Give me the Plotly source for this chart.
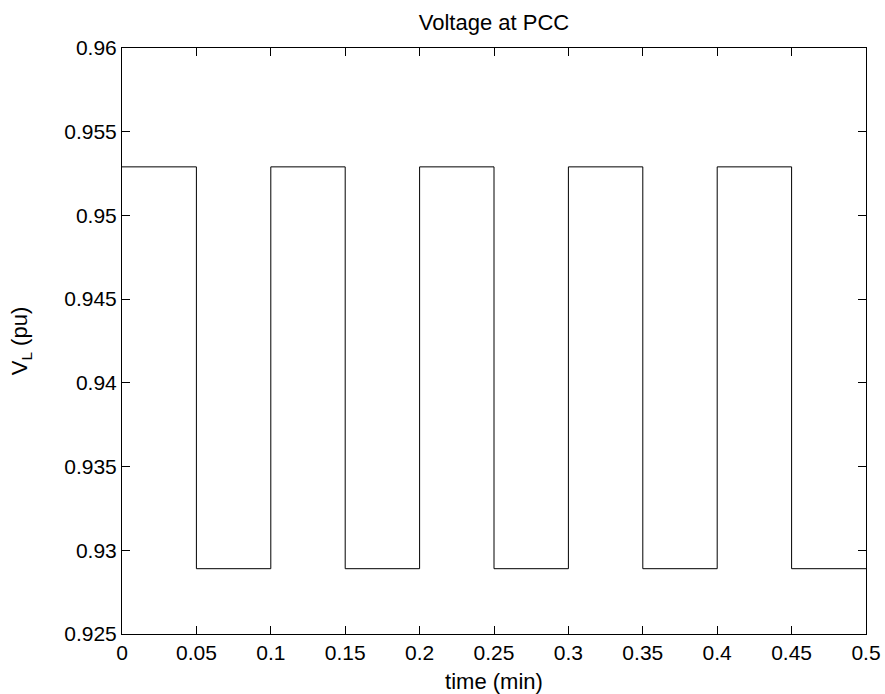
import plotly.graph_objects as go

switch_times = [0, 0.05, 0.1, 0.15, 0.2, 0.25, 0.3, 0.35, 0.4, 0.45, 0.5]
levels = [0.9529, 0.9289, 0.9529, 0.9289, 0.9529, 0.9289, 0.9529, 0.9289, 0.9529, 0.9289, 0.9289]

x_ticks = [0, 0.05, 0.1, 0.15, 0.2, 0.25, 0.3, 0.35, 0.4, 0.45, 0.5]
x_labels = ["0", "0.05", "0.1", "0.15", "0.2", "0.25", "0.3", "0.35", "0.4", "0.45", "0.5"]
y_ticks = [0.925, 0.93, 0.935, 0.94, 0.945, 0.95, 0.955, 0.96]
y_labels = ["0.925", "0.93", "0.935", "0.94", "0.945", "0.95", "0.955", "0.96"]

fig = go.Figure()
fig.add_trace(go.Scatter(x=switch_times, y=levels, mode="lines", line_shape="hv",
                         line=dict(color="black", width=1), showlegend=False))

font = "Liberation Sans, Arial, sans-serif"
axis_common = dict(showgrid=False, zeroline=False, showline=True, linecolor="black", linewidth=1,
                   mirror="ticks", ticks="inside", ticklen=8, tickcolor="black", tickwidth=1,
                   automargin=False,
                   tickfont=dict(family=font, size=21, color="black"))
fig.update_layout(
    width=885, height=694,
    margin=dict(l=122, r=19, t=48, b=60),
    paper_bgcolor="white", plot_bgcolor="white",
    title=dict(text="Voltage at PCC", x=0.5, xanchor="center", xref="paper",
               y=1 - 22 / 694, yanchor="middle", font=dict(family=font, size=22, color="black")),
    xaxis=dict(range=[0, 0.5], tickvals=x_ticks, ticktext=x_labels,
               title=dict(text="time (min)", font=dict(family=font, size=22, color="black"), standoff=11),
               **axis_common),
    yaxis=dict(range=[0.925, 0.96], tickvals=y_ticks, ticktext=y_labels,
               title=dict(text="V<sub>L</sub> (pu)", font=dict(family=font, size=22, color="black"), standoff=30),
               **axis_common),
)
fig.write_html("out.html")
